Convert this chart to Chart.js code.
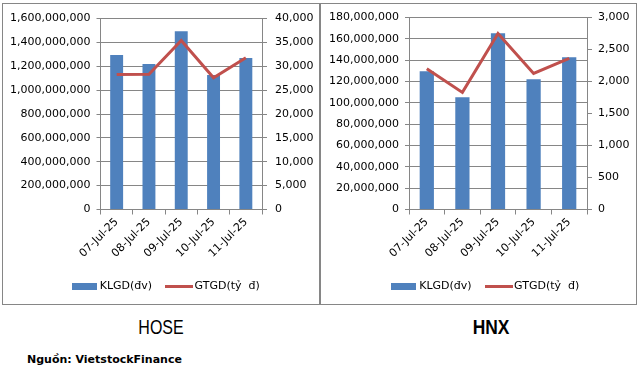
<!DOCTYPE html>
<html>
<head>
<meta charset="utf-8">
<script src="https://cdn.jsdelivr.net/npm/chart.js@4/dist/chart.umd.min.js"></script>
<style>
  body { margin: 0; background: #fff; width: 639px; height: 373px; position: relative; overflow: hidden; }
  .box { position: absolute; border: 1px solid #868686; top: 3px; height: 300px; }
  .box canvas { display: block; }
  .title { position: absolute; font-family: 'Liberation Sans', Arial, sans-serif; font-size: 20px; color: #000; top: 316px; }
  .source { position: absolute; left: 27px; top: 353px; font-family: 'DejaVu Sans', sans-serif; font-weight: bold; font-size: 11px; color: #000; }
</style>
</head>
<body>
<div class="box" style="left:2px;width:316px;"><canvas id="hoseChart" width="316" height="300"></canvas></div>
<div class="box" style="left:320px;width:315px;"><canvas id="hnxChart" width="315" height="300"></canvas></div>
<div class="title" style="left:161px;transform:translateX(-50%) scaleX(0.8);">HOSE</div>
<div class="title" style="left:491px;font-weight:bold;transform:translateX(-50%) scaleX(0.87);">HNX</div>
<div class="source">Nguồn: VietstockFinance</div>
<script>
const days = ['07-Jul-25', '08-Jul-25', '09-Jul-25', '10-Jul-25', '11-Jul-25'];

const hoseVolume = [1295000000, 1219000000, 1494000000, 1127000000, 1269000000];
const hoseValue = [28300, 28350, 35400, 27600, 31800];

const hnxVolume = [129700000, 105300000, 165300000, 122200000, 142800000];
const hnxValue = [2200, 1830, 2750, 2125, 2360];

const volumeLabel = 'KLGD(đv)';
const valueLabel = 'GTGD(tỷ  đ)';

const barColor = '#4F81BD';
const lineColor = '#C0504D';
const axisColor = '#868686';

Chart.defaults.font.family = "'DejaVu Sans', sans-serif";
Chart.defaults.font.size = 11;
Chart.defaults.color = '#000';

const fmt = (v) => Number(v).toLocaleString('en-US');

function swatch(w, h, color) {
    const c = document.createElement('canvas');
    c.width = w;
    c.height = h;
    const ctx = c.getContext('2d');
    ctx.fillStyle = color;
    ctx.fillRect(0, 0, w, h);
    return c;
}
const barSwatch = swatch(25, 7, barColor);
const lineSwatch = swatch(28, 3, lineColor);

// Excel centres its legend a bit to the right of ours, move it over after layout
const legendNudge = {
    id: 'legendNudge',
    afterLayout(chart, args, opts) {
        const lg = chart.legend;
        if (!lg) return;
        lg.left += opts.dx;
        lg.right += opts.dx;
    }
};

function makeChart(id, volume, value, cfg) {
    const ctx = document.getElementById(id).getContext('2d');
    return new Chart(ctx, {
        data: {
            labels: days,
            datasets: [{
                type: 'line',
                label: valueLabel,
                data: value,
                yAxisID: 'y1',
                borderColor: lineColor,
                borderWidth: 3,
                pointRadius: 0,
                tension: 0,
                order: 0
            }, {
                type: 'bar',
                label: volumeLabel,
                data: volume,
                yAxisID: 'y',
                backgroundColor: barColor,
                barPercentage: 0.4,
                categoryPercentage: 1,
                order: 1
            }]
        },
        plugins: [legendNudge],
        options: {
            responsive: false,
            animation: false,
            layout: { padding: { top: 13.5, bottom: 2.5, left: 0, right: 0 } },
            plugins: {
                tooltip: { enabled: false },
                legendNudge: { dx: cfg.legendDx },
                legend: {
                    position: 'bottom',
                    labels: {
                        usePointStyle: true,
                        pointStyleWidth: 20,
                        padding: 17,
                        color: '#000',
                        generateLabels: () => [
                            { text: volumeLabel, pointStyle: barSwatch, lineWidth: 0, fillStyle: barColor, strokeStyle: barColor },
                            { text: valueLabel, pointStyle: lineSwatch, lineWidth: 0, fillStyle: lineColor, strokeStyle: lineColor }
                        ]
                    }
                }
            },
            scales: {
                x: {
                    offset: true,
                    grid: { offset: true, drawOnChartArea: false, color: axisColor, tickLength: 5 },
                    border: { color: axisColor },
                    ticks: { minRotation: 45, maxRotation: 45, autoSkip: false, padding: 1 },
                    afterFit: (s) => { s.height = cfg.xHeight; }
                },
                y: {
                    position: 'left',
                    min: 0,
                    max: cfg.volMax,
                    grid: { color: axisColor, tickLength: 4 },
                    border: { color: axisColor },
                    ticks: { stepSize: cfg.volStep, padding: 6, callback: fmt },
                    afterFit: (s) => { s.width = cfg.leftW; }
                },
                y1: {
                    position: 'right',
                    min: 0,
                    max: cfg.valMax,
                    grid: { drawOnChartArea: false, color: axisColor, tickLength: 5 },
                    border: { color: axisColor },
                    ticks: { stepSize: cfg.valStep, padding: cfg.rightPad, callback: fmt },
                    afterFit: (s) => { s.width = cfg.rightW; }
                }
            }
        }
    });
}

makeChart('hoseChart', hoseVolume, hoseValue, {
    volMax: 1600000000, volStep: 200000000,
    valMax: 40000, valStep: 5000,
    leftW: 97.5, rightW: 57, rightPad: 8, xHeight: 54, legendDx: 6
});

makeChart('hnxChart', hnxVolume, hnxValue, {
    volMax: 180000000, volStep: 20000000,
    valMax: 3000, valStep: 500,
    leftW: 88, rightW: 49, rightPad: 6, xHeight: 54, legendDx: 8
});
</script>
</body>
</html>
